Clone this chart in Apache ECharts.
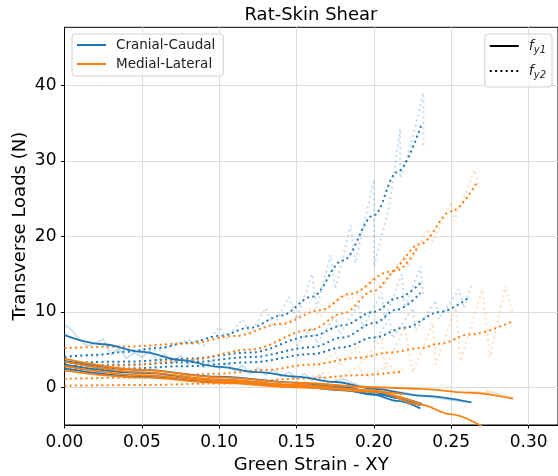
<!DOCTYPE html>
<html><head><meta charset="utf-8">
<script src="https://cdn.jsdelivr.net/npm/echarts@6/dist/echarts.min.js"></script>
<style>html,body{margin:0;padding:0;background:#fff}#c{width:558px;height:476px}</style>
</head><body><div id="c"></div>
<script>
// ---- tick labels ----
const xTicks = [0, 0.05, 0.10, 0.15, 0.20, 0.25, 0.30];
const yTicks = [0, 10, 20, 30, 40];
const groupNames = ['Cranial-Caudal', 'Medial-Lateral'];
const forceNames = ['fy1', 'fy2'];

// ---- Cranial-Caudal, fy2 fitted (dotted) ----
const ccFy2Fit1 = [[0,4.0],[0.02,4.3],[0.04,4.7],[0.06,5.2],[0.08,5.9],[0.10,6.8],[0.12,7.9],[0.14,9.5],[0.16,12.0],[0.18,16.8],[0.20,22.8],[0.215,28.5],[0.231,35.0]];
const ccFy2Fit2 = [[0,3.2],[0.04,3.4],[0.08,3.8],[0.12,4.6],[0.16,6.8],[0.18,8.2],[0.20,10.0],[0.215,11.8],[0.23,13.8]];
const ccFy2Fit3 = [[0,2.8],[0.04,3.0],[0.08,3.3],[0.12,4.0],[0.16,5.3],[0.18,6.6],[0.20,8.5],[0.215,10.3],[0.23,12.5]];
const ccFy2Fit4 = [[0,2.3],[0.04,2.5],[0.08,2.8],[0.12,3.3],[0.16,4.4],[0.18,5.3],[0.20,6.6],[0.22,7.9],[0.243,10.0],[0.262,12.0]];
// ---- Medial-Lateral, fy2 fitted (dotted) ----
const mlFy2Fit1 = [[0,5.2],[0.04,5.4],[0.08,5.8],[0.11,6.8],[0.14,8.4],[0.165,10.2],[0.185,12.4],[0.21,15.3],[0.23,19.0],[0.25,23.3],[0.267,27.3]];
const mlFy2Fit2 = [[0,2.6],[0.04,2.9],[0.08,3.6],[0.12,5.0],[0.159,7.6],[0.18,9.8],[0.20,12.8],[0.215,15.5],[0.228,18.5]];
const mlFy2Fit3 = [[0,1.1],[0.05,1.3],[0.10,1.8],[0.13,2.3],[0.159,3.0],[0.19,3.9],[0.21,4.6],[0.23,5.2],[0.243,5.8],[0.262,7.0],[0.289,8.7]];
const mlFy2Fit4 = [[0,0.2],[0.05,0.3],[0.10,0.5],[0.159,1.2],[0.19,1.6],[0.219,2.1]];
// ---- Cranial-Caudal, fy1 fitted (solid) ----
const ccFy1Fit1 = [[0,6.9],[0.025,5.7],[0.05,4.7],[0.075,3.6],[0.10,2.7],[0.125,2.0],[0.15,1.4],[0.175,0.7],[0.20,-0.2],[0.23,-1.1],[0.263,-2.0]];
const ccFy1Fit2 = [[0,3.5],[0.05,2.3],[0.10,1.4],[0.15,0.6],[0.18,0.0],[0.20,-0.6],[0.215,-1.4],[0.231,-2.2]];
const ccFy1Fit3 = [[0,3.0],[0.05,1.9],[0.10,1.0],[0.15,0.3],[0.18,-0.3],[0.20,-1.0],[0.215,-1.8],[0.23,-2.8]];
const ccFy1Fit4 = [[0,2.5],[0.05,1.4],[0.10,0.7],[0.15,0.1],[0.18,-0.4],[0.20,-0.9],[0.23,-2.4]];
// ---- Medial-Lateral, fy1 fitted (solid) ----
const mlFy1Fit1 = [[0,3.8],[0.05,2.3],[0.10,1.3],[0.15,0.6],[0.20,0.0],[0.23,-0.2],[0.26,-0.7],[0.29,-1.5]];
const mlFy1Fit2 = [[0,3.4],[0.05,2.0],[0.10,1.0],[0.15,0.3],[0.20,-0.4],[0.23,-2.3],[0.25,-3.6],[0.27,-5.2]];
const mlFy1Fit3 = [[0,2.8],[0.05,1.6],[0.10,0.8],[0.15,0.2],[0.20,-0.6],[0.23,-2.2]];
const mlFy1Fit4 = [[0,2.2],[0.05,1.3],[0.10,0.6],[0.15,0.0],[0.19,-0.4],[0.219,-0.9]];

// ---- raw measurements (faint) ----
const ccFy2Raw1 = [[0,4.2],[0.02,4.0],[0.04,5.0],[0.06,4.8],[0.08,6.3],[0.09,5.5],[0.10,8.0],[0.105,6.5],[0.115,9.0],[0.12,7.0],[0.13,10.5],[0.135,8.0],[0.145,12.0],[0.15,9.0],[0.16,15.0],[0.163,10.5],[0.172,17.5],[0.175,13.0],[0.185,21.5],[0.188,16.5],[0.20,27.5],[0.20,16.0],[0.21,24.0],[0.217,34.3],[0.217,27.7],[0.225,33.0],[0.232,39.0],[0.232,31.9]];
const ccFy2Raw2 = [[0.15,5.5],[0.16,8.0],[0.163,5.8],[0.175,9.5],[0.178,7.0],[0.19,11.0],[0.193,8.0],[0.205,12.5],[0.207,9.0],[0.218,15.0],[0.22,10.5],[0.23,16.0],[0.232,12.0]];
const ccFy2Raw4 = [[0.20,6.0],[0.21,9.0],[0.212,6.5],[0.225,10.5],[0.227,7.5],[0.24,11.5],[0.242,9.0],[0.255,13.0],[0.258,10.5],[0.263,13.5]];
const mlFy2Raw1 = [[0.14,8.2],[0.16,10.5],[0.165,9.4],[0.18,12.3],[0.185,11.6],[0.20,14.5],[0.205,13.2],[0.22,17.5],[0.222,16.0],[0.235,21.0],[0.238,19.3],[0.25,24.5],[0.252,22.0],[0.265,28.8],[0.268,26.5]];
const mlFy2Raw3 = [[0.16,2.5],[0.175,4.5],[0.178,2.8],[0.19,5.5],[0.192,3.2],[0.205,6.5],[0.207,2.5],[0.22,8.0],[0.225,2.0],[0.238,8.5],[0.24,3.0],[0.253,10.5],[0.256,3.5],[0.27,12.9],[0.275,4.0],[0.285,13.5],[0.29,9.5]];
const mlFy2Raw4 = [[0.15,1.0],[0.17,2.0],[0.175,1.0],[0.19,2.8],[0.195,1.3],[0.21,3.0],[0.215,1.8],[0.22,2.6]];
const ccFy1Raw1 = [[0,8.3],[0.005,7.5],[0.01,6.2],[0.015,5.5],[0.02,5.8],[0.025,6.4],[0.03,4.3],[0.035,5.2],[0.04,3.8],[0.045,4.6],[0.05,4.0],[0.055,4.8],[0.06,3.6],[0.065,4.4],[0.07,3.2],[0.075,4.2],[0.08,3.0],[0.085,3.8],[0.09,2.6],[0.095,3.5],[0.10,2.4],[0.105,3.2],[0.11,2.1],[0.115,2.9],[0.12,1.8],[0.125,2.6],[0.13,1.6],[0.135,2.3],[0.14,1.4],[0.145,2.0],[0.15,1.1],[0.155,1.8],[0.16,0.9],[0.165,1.6],[0.17,0.6],[0.18,1.1],[0.19,0.3],[0.20,0.0],[0.21,-0.5],[0.22,-0.7],[0.23,-1.2],[0.24,-1.4],[0.25,-1.7],[0.263,-2.0]];
const mlFy1Raw1 = [[0.26,-0.5],[0.275,-0.8],[0.272,-0.4],[0.29,-1.4]];

const BLUE = '#1f77b4', ORANGE = '#ff7f0e';
const DOT = [2, 3.3];

function fit(data, color, dotted) {
  return { type: 'line', data: data, showSymbol: false, symbol: 'none', smooth: 0.35, smoothMonotone: 'x',
    silent: true, z: 3,
    lineStyle: { color: color, width: dotted ? 2 : 1.8, type: dotted ? DOT : 'solid', cap: 'butt' } };
}
function raw(data, color, dotted) {
  return { type: 'line', data: data, showSymbol: false, symbol: 'none', silent: true, z: 2,
    lineStyle: { color: color, width: dotted ? 2 : 1.6, opacity: 0.25, type: dotted ? DOT : 'solid', cap: 'butt' } };
}
function dummy(name, color, dotted) {
  return { type: 'line', name: name, data: [], symbol: 'none', showSymbol: false, itemStyle: { color: color },
    lineStyle: { color: color, width: dotted ? 2 : 1.8, type: dotted ? DOT : 'solid' } };
}

const series = [
  raw(ccFy1Raw1, BLUE, false), raw(mlFy1Raw1, ORANGE, false),
  raw(ccFy2Raw1, BLUE, true), raw(ccFy2Raw2, BLUE, true), raw(ccFy2Raw4, BLUE, true),
  raw(mlFy2Raw1, ORANGE, true), raw(mlFy2Raw3, ORANGE, true), raw(mlFy2Raw4, ORANGE, true),
  fit(ccFy2Fit1, BLUE, true), fit(ccFy2Fit2, BLUE, true), fit(ccFy2Fit3, BLUE, true), fit(ccFy2Fit4, BLUE, true),
  fit(mlFy2Fit1, ORANGE, true), fit(mlFy2Fit2, ORANGE, true), fit(mlFy2Fit3, ORANGE, true), fit(mlFy2Fit4, ORANGE, true),
  fit(ccFy1Fit1, BLUE, false), fit(ccFy1Fit2, BLUE, false), fit(ccFy1Fit3, BLUE, false), fit(ccFy1Fit4, BLUE, false),
  fit(mlFy1Fit1, ORANGE, false), fit(mlFy1Fit2, ORANGE, false), fit(mlFy1Fit3, ORANGE, false), fit(mlFy1Fit4, ORANGE, false),
  dummy(groupNames[0], BLUE, false), dummy(groupNames[1], ORANGE, false),
  dummy(forceNames[0], '#000', false), dummy(forceNames[1], '#000', true)
];

const FONT = 'DejaVu Sans';
const HIDDEN_SYMBOL = { color: 'rgba(0,0,0,0)', borderWidth: 0, borderColor: 'rgba(0,0,0,0)' };
const chart = echarts.init(document.getElementById('c'), null, { renderer: 'canvas' });
chart.setOption({
  animation: false,
  backgroundColor: '#fff',
  title: { text: 'Rat-Skin Shear', left: 311, top: 6, padding: 0, textAlign: 'center',
    textStyle: { fontFamily: FONT, fontSize: 18, fontWeight: 'normal', color: '#000' } },
  grid: { left: 64.5, right: 0, top: 27.3, bottom: 51, show: true, borderColor: '#000', borderWidth: 1,
    outerBoundsMode: 'none', containLabel: false },
  legend: [
    { data: groupNames, orient: 'vertical', left: 72, top: 34, padding: [4, 8, 5, 4], itemGap: 5,
      itemWidth: 29, itemHeight: 14, selectedMode: false, itemStyle: HIDDEN_SYMBOL,
      backgroundColor: 'rgba(255,255,255,0.8)', borderColor: '#d0d0d0', borderWidth: 1, borderRadius: 3,
      textStyle: { fontFamily: FONT, fontSize: 13.5, color: '#222', padding: [0, 0, 0, 5] } },
    { data: forceNames, orient: 'vertical', right: 6, top: 34, padding: [5, 6, 7, 4], itemGap: 9,
      itemWidth: 29, itemHeight: 16, selectedMode: false, itemStyle: HIDDEN_SYMBOL,
      backgroundColor: 'rgba(255,255,255,0.8)', borderColor: '#d0d0d0', borderWidth: 1, borderRadius: 3,
      formatter: function (n) { return '{f|f}{s|' + (n === 'fy1' ? 'y1' : 'y2') + '}'; },
      textStyle: { fontFamily: FONT, color: '#222', padding: [0, 0, 0, 5],
        rich: { f: { fontFamily: FONT, fontStyle: 'italic', fontSize: 14, color: '#222', lineHeight: 18, verticalAlign: 'middle' },
                s: { fontFamily: FONT, fontStyle: 'italic', fontSize: 10, color: '#222', lineHeight: 18, verticalAlign: 'bottom' } } } }
  ],
  xAxis: {
    type: 'value', min: 0, max: 0.319,
    name: 'Green Strain - XY', nameLocation: 'middle', nameGap: 31, nameMoveOverlap: false,
    nameTextStyle: { fontFamily: FONT, fontSize: 18, color: '#000' },
    axisLine: { show: true, onZero: false, lineStyle: { color: '#000', width: 1 } },
    axisTick: { show: true, inside: false, length: 3.5, customValues: xTicks, lineStyle: { color: '#000' } },
    axisLabel: { customValues: xTicks, margin: 9, fontFamily: FONT, fontSize: 17, color: '#000',
      formatter: function (v) { return v.toFixed(2); } },
    splitLine: { show: true, lineStyle: { color: '#dcdcdc', width: 1 } }
  },
  yAxis: {
    type: 'value', min: -5, max: 47.7,
    name: 'Transverse Loads (N)', nameLocation: 'middle', nameGap: 35, nameRotate: 90, nameMoveOverlap: false,
    nameTextStyle: { fontFamily: FONT, fontSize: 18, color: '#000' },
    axisLine: { show: true, onZero: false, lineStyle: { color: '#000', width: 1 } },
    axisTick: { show: true, inside: false, length: 3.5, customValues: yTicks, lineStyle: { color: '#000' } },
    axisLabel: { customValues: yTicks, margin: 8, fontFamily: FONT, fontSize: 17, color: '#000' },
    splitLine: { show: true, lineStyle: { color: '#dcdcdc', width: 1 } }
  },
  series: series
});
</script>
</body></html>
